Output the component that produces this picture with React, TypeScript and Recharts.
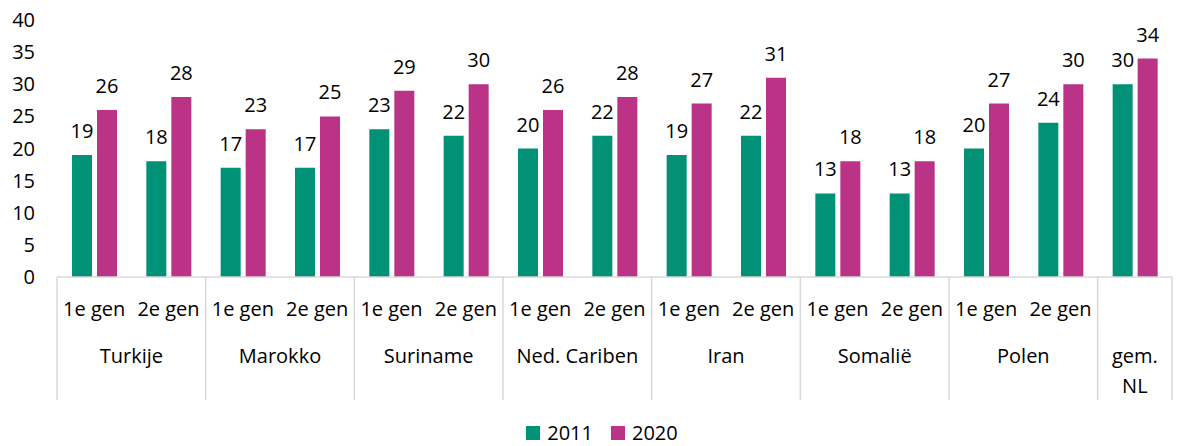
import React from 'react';
import { BarChart, Bar, XAxis, YAxis, Legend, LabelList } from 'recharts';

const countries = ['Turkije', 'Turkije', 'Marokko', 'Marokko', 'Suriname', 'Suriname', 'Ned. Cariben', 'Ned. Cariben', 'Iran', 'Iran', 'Somalië', 'Somalië', 'Polen', 'Polen', 'gem. NL'];
const generations = ['1e gen', '2e gen', '1e gen', '2e gen', '1e gen', '2e gen', '1e gen', '2e gen', '1e gen', '2e gen', '1e gen', '2e gen', '1e gen', '2e gen', ''];
const values2011 = [19, 18, 17, 17, 23, 22, 20, 22, 19, 22, 13, 13, 20, 24, 30];
const values2020 = [26, 28, 23, 25, 29, 30, 26, 28, 27, 31, 18, 18, 27, 30, 34];
const yTicks = [0, 5, 10, 15, 20, 25, 30, 35, 40];

const data = countries.map((c, i) => ({
  key: `${c}|${generations[i]}|${i}`,
  v2011: values2011[i],
  v2020: values2020[i],
}));

const W = 1179;
const H = 446;
const MARGIN = { top: 20, right: 7, left: 0, bottom: 3 };
const Y_W = 57;
const PLOT_W = W - MARGIN.left - MARGIN.right - Y_W;
const HALF_BAND = PLOT_W / countries.length / 2;
const FONT = '"Open Sans", sans-serif';
const GREEN = '#009176';
const PINK = '#ba3387';
const LINE = '#d9d9d9';

const CategoryTick = (props: any) => {
  const { x, y, index } = props;
  const half = props.payload && typeof props.payload.offset === 'number' && props.payload.offset > 0 ? props.payload.offset : HALF_BAND;
  const n = countries.length;
  const c = countries[index];
  const isStart = index === 0 || countries[index - 1] !== c;
  const isEnd = index === n - 1 || countries[index + 1] !== c;
  const gen = generations[index];
  const els: React.ReactNode[] = [];
  if (isStart) {
    els.push(<line key="ls" x1={x - half} x2={x - half} y1={y} y2={y + 123} stroke={LINE} strokeWidth={1.5} />);
  }
  if (index === n - 1) {
    els.push(<line key="le" x1={x + half} x2={x + half} y1={y} y2={y + 123} stroke={LINE} strokeWidth={1.5} />);
  }
  if (gen) {
    els.push(
      <text key="g" x={x} y={y + 39} textAnchor="middle" fontSize={20} fontFamily={FONT} fill="#000">
        {gen}
      </text>
    );
  }
  if (isEnd) {
    if (isStart) {
      const parts = c.split(' ');
      parts.forEach((p, k) => {
        els.push(
          <text key={'c' + k} x={x} y={y + 86 + k * 30} textAnchor="middle" fontSize={20} fontFamily={FONT} fill="#000">
            {p}
          </text>
        );
      });
    } else {
      els.push(
        <text key="c" x={x - half} y={y + 86} textAnchor="middle" fontSize={20} fontFamily={FONT} fill="#000">
          {c}
        </text>
      );
    }
  }
  return <g>{els}</g>;
};

const LegendContent = (props: any) => {
  const items = props.payload || [];
  return (
    <div
      style={{
        height: 20,
        display: 'flex',
        justifyContent: 'center',
        alignItems: 'center',
        paddingLeft: 32,
        fontFamily: FONT,
        fontSize: 20,
        color: '#000',
        lineHeight: '20px',
      }}
    >
      {items.map((it: any, i: number) => (
        <div key={i} style={{ display: 'flex', alignItems: 'center', marginLeft: i === 0 ? 0 : 18 }}>
          <span style={{ display: 'inline-block', width: 14, height: 14, background: it.color, marginRight: 7 }} />
          <span>{it.value}</span>
        </div>
      ))}
    </div>
  );
};

export default function App() {
  return (
    <div style={{ width: W, height: H }}>
      <style>{`body{margin:0;}`}</style>
      <BarChart width={W} height={H} data={data} margin={MARGIN} barSize={20} barGap={5}>
        <XAxis
          dataKey="key"
          interval={0}
          tick={<CategoryTick />}
          tickLine={false}
          tickSize={0}
          tickMargin={0}
          height={146}
          axisLine={{ stroke: LINE, strokeWidth: 1.5 }}
        />
        <YAxis
          domain={[0, 40]}
          ticks={yTicks}
          width={Y_W}
          axisLine={false}
          tickLine={false}
          tickSize={0}
          tickMargin={22}
          interval={0}
          tick={{ fontSize: 20, fill: '#000', fontFamily: FONT }}
        />
        <Legend verticalAlign="bottom" content={<LegendContent />} />
        <Bar dataKey="v2011" name="2011" fill={GREEN} isAnimationActive={false}>
          <LabelList dataKey="v2011" position="top" offset={17} fontSize={20} fontFamily={FONT} fill="#000" />
        </Bar>
        <Bar dataKey="v2020" name="2020" fill={PINK} isAnimationActive={false}>
          <LabelList dataKey="v2020" position="top" offset={17} fontSize={20} fontFamily={FONT} fill="#000" />
        </Bar>
      </BarChart>
    </div>
  );
}
